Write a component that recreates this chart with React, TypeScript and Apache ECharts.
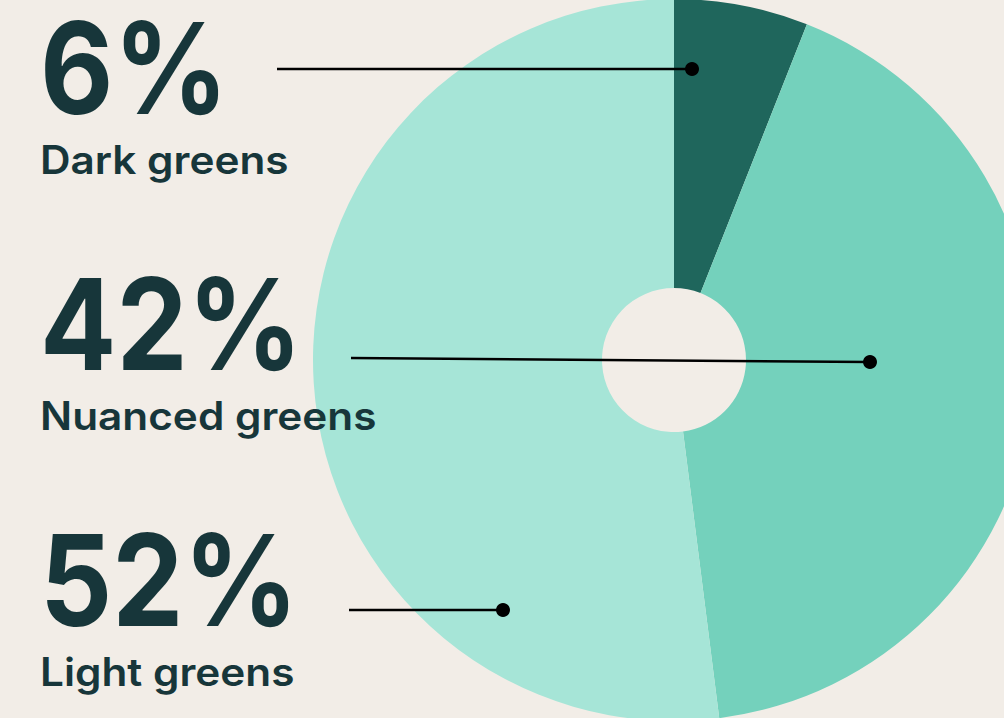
import React, { useEffect, useRef } from "react";
import * as echarts from "echarts";

const categories = ["Dark greens", "Nuanced greens", "Light greens"];
const values = [6, 42, 52];
const percentLabels = ["6%", "42%", "52%"];

const sliceColors = ["#1f665c", "#74d1bc", "#a6e5d7"];
const textColor = "#17363a";
const bg = "#f2ede7";

// layout of the annotations (pixels)
const pieCenter: [number, number] = [674, 360];
const pieRadius: [number, number] = [72, 361];
const numberY = [68, 324, 580];
const nameY = [160, 416, 672];
const lineStart = [[277, 69], [351, 358], [349, 610]];
const lineEnd = [[692, 69], [870, 362], [503, 610]];

export default function App() {
  const ref = useRef<HTMLDivElement>(null);
  useEffect(() => {
    if (!ref.current) return;
    const chart = echarts.init(ref.current, undefined, { renderer: "svg" });
    const graphics: any[] = [];
    categories.forEach((c, i) => {
      graphics.push({
        type: "line",
        shape: { x1: lineStart[i][0], y1: lineStart[i][1], x2: lineEnd[i][0], y2: lineEnd[i][1] },
        style: { stroke: "#000", lineWidth: 2.5 },
        z: 10,
      });
      graphics.push({
        type: "circle",
        shape: { cx: lineEnd[i][0], cy: lineEnd[i][1], r: 7 },
        style: { fill: "#000" },
        z: 10,
      });
      graphics.push({
        type: "text",
        x: 40,
        y: numberY[i],
        scaleX: 0.89,
        style: {
          text: percentLabels[i],
          fill: textColor,
          font: "bold 127px Inter",
          align: "left",
          verticalAlign: "middle",
        },
        z: 10,
      });
      graphics.push({
        type: "text",
        x: 40,
        y: nameY[i],
        scaleX: 1.085,
        style: {
          text: c,
          fill: textColor,
          font: "600 39px Inter",
          align: "left",
          verticalAlign: "middle",
        },
        z: 10,
      });
    });
    chart.setOption({
      animation: false,
      backgroundColor: bg,
      series: [
        {
          type: "pie",
          center: pieCenter,
          radius: pieRadius,
          startAngle: 90,
          clockwise: true,
          label: { show: false },
          labelLine: { show: false },
          emphasis: { disabled: true },
          itemStyle: { borderWidth: 0 },
          data: categories.map((c, i) => ({
            name: c,
            value: values[i],
            itemStyle: { color: sliceColors[i] },
          })),
        },
      ],
      graphic: graphics,
    });
    return () => chart.dispose();
  }, []);
  return (
    <div
      ref={ref}
      style={{ position: "fixed", left: 0, top: 0, width: 1004, height: 718 }}
    />
  );
}
